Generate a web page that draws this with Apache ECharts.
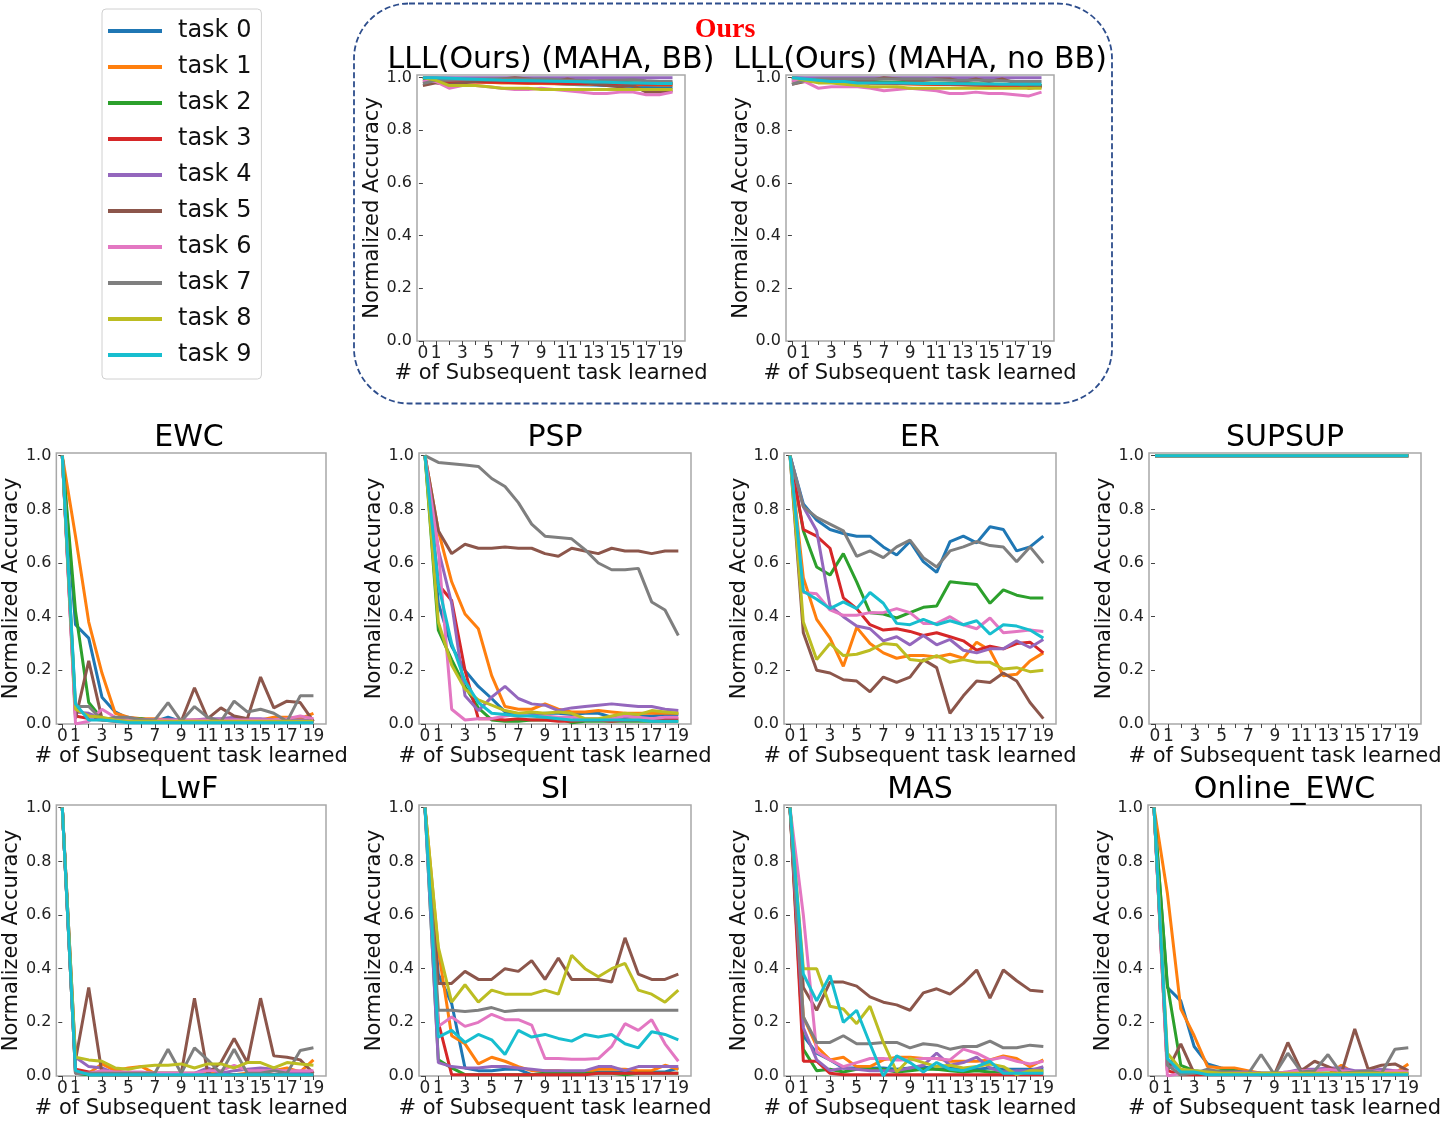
<!DOCTYPE html>
<html><head><meta charset="utf-8">
<script src="https://cdn.jsdelivr.net/npm/echarts@6/dist/echarts.min.js"></script>
<style>html,body{margin:0;padding:0;background:#fff;}#c{width:1449px;height:1122px;}</style>
</head><body><div id="c"></div>
<script>
const steps = [0,1,2,3,4,5,6,7,8,9,10,11,12,13,14,15,16,17,18,19];
const taskNames = ['task 0','task 1','task 2','task 3','task 4','task 5','task 6','task 7','task 8','task 9'];
const taskColors = ['#1f77b4','#ff7f0e','#2ca02c','#d62728','#9467bd','#8c564b','#e377c2','#7f7f7f','#bcbd22','#17becf'];
const xTickValues = steps;
const xLabelValues = [0,1,3,5,7,9,11,13,15,17,19];
const yTickValues = [0,0.2,0.4,0.6,0.8,1.0];
const methodTitles = ['LLL(Ours) (MAHA, BB)','LLL(Ours) (MAHA, no BB)','EWC','PSP','ER','SUPSUP','LwF','SI','MAS','Online_EWC'];

const lllBB = [
 [1.0,0.998,0.995,0.993,0.99,0.988,0.986,0.984,0.982,0.98,0.978,0.975,0.973,0.972,0.97,0.968,0.966,0.965,0.964,0.963],
 [1.0,0.99,0.985,0.985,0.983,0.982,0.98,0.98,0.978,0.978,0.977,0.976,0.976,0.975,0.975,0.974,0.973,0.973,0.972,0.972],
 [0.99,0.992,0.99,0.99,0.988,0.988,0.987,0.986,0.985,0.985,0.984,0.984,0.983,0.983,0.982,0.982,0.981,0.98,0.98,0.98],
 [0.985,0.988,0.985,0.984,0.983,0.982,0.982,0.981,0.98,0.98,0.979,0.978,0.978,0.977,0.977,0.976,0.976,0.975,0.975,0.975],
 [1,1,1,1,1,1,1,1,1,1,1,1,1,1,1,1,1,1,1,1],
 [0.97,0.98,0.975,0.98,0.985,0.99,0.995,1.0,0.995,0.99,0.985,0.995,0.985,0.975,0.97,0.965,0.97,0.945,0.945,0.95],
 [0.985,0.985,0.96,0.97,0.97,0.965,0.96,0.955,0.955,0.96,0.955,0.95,0.945,0.94,0.94,0.945,0.945,0.935,0.935,0.945],
 [0.978,0.99,0.99,0.992,0.994,0.995,0.996,0.995,0.994,0.995,0.993,0.99,0.99,0.988,0.99,0.99,0.992,0.988,0.985,0.985],
 [1.0,0.99,0.97,0.97,0.97,0.965,0.96,0.96,0.96,0.955,0.955,0.955,0.955,0.955,0.955,0.955,0.955,0.955,0.955,0.955],
 [1.0,1.0,0.998,0.996,0.994,0.992,0.99,0.989,0.988,0.987,0.986,0.985,0.984,0.983,0.982,0.981,0.98,0.979,0.978,0.978]
];
const lllNoBB = [
 [1.0,0.997,0.993,0.99,0.988,0.986,0.984,0.982,0.98,0.978,0.977,0.976,0.975,0.974,0.972,0.971,0.97,0.97,0.97,0.97],
 [1.0,0.99,0.986,0.984,0.982,0.98,0.979,0.978,0.977,0.976,0.975,0.974,0.974,0.973,0.972,0.971,0.97,0.97,0.97,0.97],
 [0.99,0.99,0.988,0.987,0.986,0.985,0.984,0.983,0.982,0.981,0.98,0.98,0.979,0.978,0.977,0.976,0.975,0.974,0.972,0.97],
 [0.99,0.988,0.986,0.984,0.983,0.982,0.98,0.979,0.978,0.977,0.976,0.975,0.974,0.973,0.972,0.97,0.969,0.968,0.966,0.965],
 [1,1,1,1,1,1,1,1,1,1,1,1,1,1,1,1,1,1,1,1],
 [0.975,0.985,0.99,0.99,0.99,0.985,0.99,1.0,0.995,0.99,0.99,0.995,0.995,0.985,0.995,0.985,0.995,0.98,0.96,0.965],
 [0.99,0.985,0.96,0.965,0.965,0.965,0.96,0.95,0.955,0.96,0.955,0.95,0.94,0.94,0.945,0.94,0.94,0.935,0.93,0.945],
 [0.975,0.99,0.995,0.995,0.995,0.995,0.995,0.995,0.995,0.995,0.995,0.993,0.99,0.99,0.99,0.99,0.988,0.985,0.985,0.985],
 [1.0,0.99,0.98,0.98,0.975,0.97,0.965,0.965,0.965,0.96,0.96,0.96,0.96,0.96,0.96,0.96,0.96,0.96,0.96,0.96],
 [1.0,0.995,0.99,0.985,0.985,0.98,0.98,0.98,0.98,0.979,0.978,0.978,0.977,0.977,0.976,0.976,0.975,0.975,0.975,0.975]
];
const ewc = [
 [1,0.37,0.32,0.10,0.045,0.02,0.015,0.01,0.025,0.01,0.01,0.01,0.01,0.01,0.01,0.01,0.01,0.01,0.01,0.01],
 [1,0.70,0.38,0.19,0.04,0.025,0.02,0.02,0.015,0.01,0.015,0.01,0.01,0.015,0.015,0.015,0.025,0.025,0.02,0.04],
 [1,0.42,0.08,0.02,0.02,0.015,0.02,0.01,0.01,0.01,0.01,0.01,0.01,0.01,0.01,0.01,0.01,0.01,0.01,0.01],
 [1,0.03,0.02,0.015,0.01,0.01,0.01,0.01,0.01,0.01,0.01,0.01,0.01,0.01,0.01,0.01,0.01,0.01,0.01,0.01],
 [1,0.045,0.04,0.02,0.015,0.015,0.015,0.015,0.015,0.015,0.015,0.02,0.02,0.025,0.02,0.02,0.015,0.015,0.015,0.015],
 [1,0.02,0.235,0.02,0.02,0.02,0.015,0.01,0.01,0.01,0.135,0.02,0.06,0.03,0.02,0.175,0.06,0.085,0.08,0.01],
 [1,0.0,0.01,0.055,0.025,0.02,0.015,0.015,0.015,0.015,0.015,0.015,0.015,0.015,0.015,0.015,0.015,0.02,0.03,0.02],
 [1,0.065,0.065,0.015,0.025,0.025,0.015,0.015,0.08,0.01,0.065,0.025,0.01,0.085,0.045,0.055,0.04,0.01,0.105,0.105],
 [1,0.055,0.03,0.025,0.015,0.01,0.01,0.01,0.01,0.01,0.01,0.01,0.01,0.01,0.01,0.01,0.01,0.01,0.01,0.01],
 [1,0.075,0.015,0.015,0.01,0.005,0.005,0.005,0.005,0.005,0.005,0.005,0.005,0.005,0.005,0.005,0.005,0.005,0.005,0.005]
];
const psp = [
 [1,0.45,0.29,0.2,0.14,0.095,0.045,0.035,0.035,0.04,0.04,0.035,0.04,0.04,0.025,0.025,0.03,0.03,0.035,0.035],
 [1,0.72,0.53,0.41,0.355,0.18,0.065,0.055,0.055,0.075,0.055,0.045,0.045,0.05,0.045,0.04,0.04,0.04,0.04,0.04],
 [1,0.35,0.24,0.14,0.06,0.015,0.01,0.01,0.015,0.015,0.02,0.005,0.01,0.01,0.01,0.01,0.01,0.01,0.01,0.01],
 [1,0.52,0.46,0.2,0.02,0.02,0.015,0.02,0.015,0.015,0.01,0.01,0.015,0.015,0.01,0.015,0.015,0.015,0.02,0.02],
 [1,0.65,0.45,0.105,0.05,0.1,0.14,0.095,0.075,0.07,0.05,0.06,0.065,0.07,0.075,0.07,0.065,0.065,0.055,0.05],
 [1,0.72,0.635,0.67,0.655,0.655,0.66,0.655,0.655,0.635,0.625,0.655,0.645,0.635,0.655,0.645,0.645,0.635,0.645,0.645],
 [1,0.65,0.055,0.015,0.02,0.02,0.03,0.035,0.03,0.03,0.025,0.025,0.02,0.02,0.02,0.03,0.025,0.02,0.025,0.025],
 [1,0.975,0.97,0.965,0.96,0.915,0.885,0.825,0.745,0.7,0.695,0.69,0.65,0.6,0.575,0.575,0.58,0.455,0.425,0.33],
 [1,0.38,0.22,0.13,0.09,0.07,0.05,0.04,0.045,0.04,0.045,0.04,0.02,0.02,0.03,0.04,0.035,0.05,0.045,0.04],
 [1,0.52,0.3,0.16,0.08,0.04,0.035,0.03,0.03,0.025,0.02,0.015,0.015,0.015,0.015,0.015,0.015,0.01,0.01,0.01]
];
const er = [
 [1,0.82,0.76,0.725,0.71,0.70,0.70,0.66,0.63,0.68,0.605,0.565,0.68,0.70,0.675,0.735,0.725,0.645,0.66,0.70],
 [1,0.545,0.39,0.32,0.215,0.36,0.30,0.265,0.245,0.255,0.255,0.25,0.26,0.245,0.305,0.275,0.18,0.185,0.235,0.265],
 [1,0.72,0.585,0.555,0.635,0.53,0.415,0.41,0.395,0.415,0.435,0.44,0.53,0.525,0.52,0.45,0.50,0.48,0.47,0.47],
 [1,0.725,0.70,0.655,0.47,0.43,0.37,0.35,0.355,0.345,0.33,0.34,0.325,0.31,0.275,0.29,0.28,0.30,0.305,0.265],
 [1,0.81,0.72,0.44,0.40,0.365,0.355,0.31,0.325,0.295,0.33,0.295,0.315,0.275,0.265,0.28,0.28,0.31,0.285,0.315],
 [1,0.34,0.20,0.19,0.165,0.16,0.12,0.175,0.155,0.175,0.24,0.21,0.04,0.105,0.16,0.155,0.19,0.16,0.08,0.02],
 [1,0.49,0.485,0.425,0.405,0.405,0.415,0.415,0.43,0.415,0.375,0.375,0.40,0.37,0.355,0.395,0.34,0.345,0.35,0.345],
 [1,0.81,0.77,0.745,0.72,0.625,0.645,0.62,0.66,0.685,0.62,0.585,0.645,0.66,0.68,0.665,0.66,0.605,0.66,0.60],
 [1,0.38,0.24,0.30,0.255,0.26,0.275,0.30,0.295,0.24,0.235,0.255,0.23,0.24,0.23,0.23,0.205,0.21,0.195,0.20],
 [1,0.495,0.465,0.43,0.455,0.43,0.49,0.45,0.375,0.37,0.39,0.37,0.385,0.37,0.385,0.335,0.37,0.365,0.35,0.32]
];
const supsup = [
 [1,1,1,1,1,1,1,1,1,1,1,1,1,1,1,1,1,1,1,1],
 [1,1,1,1,1,1,1,1,1,1,1,1,1,1,1,1,1,1,1,1],
 [1,1,1,1,1,1,1,1,1,1,1,1,1,1,1,1,1,1,1,1],
 [1,1,1,1,1,1,1,1,1,1,1,1,1,1,1,1,1,1,1,1],
 [1,1,1,1,1,1,1,1,1,1,1,1,1,1,1,1,1,1,1,1],
 [1,1,1,1,1,1,1,1,1,1,1,1,1,1,1,1,1,1,1,1],
 [1,1,1,1,1,1,1,1,1,1,1,1,1,1,1,1,1,1,1,1],
 [1,1,1,1,1,1,1,1,1,1,1,1,1,1,1,1,1,1,1,1],
 [1,1,1,1,1,1,1,1,1,1,1,1,1,1,1,1,1,1,1,1],
 [1,1,1,1,1,1,1,1,1,1,1,1,1,1,1,1,1,1,1,1]
];
const lwf = [
 [1,0.01,0.005,0.005,0.005,0.005,0.005,0.005,0.005,0.005,0.005,0.005,0.005,0.005,0.005,0.005,0.005,0.005,0.005,0.005],
 [1,0.02,0.01,0.045,0.02,0.03,0.035,0.01,0.01,0.01,0.01,0.01,0.01,0.005,0.01,0.01,0.02,0.03,0.015,0.06],
 [1,0.01,0.005,0.005,0.005,0.005,0.005,0.005,0.005,0.005,0.005,0.005,0.005,0.005,0.005,0.005,0.005,0.005,0.005,0.005],
 [1,0.025,0.015,0.005,0.005,0.005,0.005,0.005,0.005,0.005,0.005,0.005,0.005,0.005,0.005,0.005,0.005,0.005,0.005,0.005],
 [1,0.07,0.035,0.03,0.01,0.01,0.01,0.01,0.01,0.01,0.01,0.03,0.01,0.02,0.025,0.03,0.025,0.015,0.015,0.015],
 [1,0.06,0.33,0.01,0.01,0.01,0.01,0.01,0.01,0.01,0.29,0.01,0.05,0.14,0.05,0.29,0.075,0.07,0.06,0.01],
 [1,0.01,0.01,0.02,0.015,0.015,0.015,0.01,0.01,0.01,0.01,0.02,0.02,0.04,0.02,0.02,0.02,0.02,0.02,0.02],
 [1,0.01,0.01,0.01,0.01,0.01,0.01,0.01,0.10,0.01,0.105,0.06,0.01,0.10,0.01,0.01,0.02,0.01,0.095,0.105],
 [1,0.07,0.06,0.055,0.03,0.025,0.035,0.04,0.04,0.045,0.03,0.045,0.045,0.03,0.05,0.05,0.03,0.05,0.045,0.04],
 [1,0.02,0.005,0.005,0.005,0.005,0.005,0.005,0.005,0.005,0.005,0.005,0.005,0.005,0.005,0.005,0.005,0.005,0.005,0.005]
];
const si = [
 [1,0.38,0.27,0.03,0.02,0.02,0.025,0.025,0.005,0.01,0.01,0.01,0.01,0.015,0.015,0.015,0.015,0.015,0.015,0.03],
 [1,0.47,0.15,0.12,0.045,0.07,0.055,0.035,0.02,0.02,0.02,0.015,0.015,0.025,0.025,0.025,0.02,0.02,0.04,0.025],
 [1,0.06,0.03,0.005,0.005,0.005,0.005,0.005,0.005,0.01,0.01,0.01,0.01,0.01,0.01,0.005,0.01,0.01,0.01,0.01],
 [1,0.2,0.005,0.005,0.005,0.005,0.005,0.005,0.005,0.005,0.005,0.005,0.005,0.01,0.01,0.01,0.01,0.01,0.01,0.01],
 [1,0.05,0.035,0.03,0.03,0.035,0.035,0.03,0.025,0.02,0.02,0.02,0.02,0.035,0.035,0.02,0.035,0.035,0.035,0.035],
 [1,0.345,0.345,0.39,0.36,0.36,0.40,0.39,0.43,0.36,0.44,0.36,0.36,0.36,0.35,0.515,0.38,0.36,0.36,0.38],
 [1,0.185,0.22,0.185,0.20,0.23,0.21,0.21,0.19,0.065,0.065,0.062,0.062,0.065,0.11,0.195,0.17,0.21,0.12,0.055],
 [1,0.245,0.245,0.24,0.245,0.255,0.24,0.245,0.245,0.245,0.245,0.245,0.245,0.245,0.245,0.245,0.245,0.245,0.245,0.245],
 [1,0.48,0.275,0.34,0.275,0.32,0.305,0.305,0.305,0.32,0.305,0.45,0.40,0.37,0.40,0.42,0.32,0.305,0.275,0.32],
 [1,0.145,0.17,0.125,0.155,0.135,0.08,0.17,0.145,0.155,0.14,0.13,0.155,0.145,0.155,0.12,0.105,0.165,0.155,0.135]
];
const mas = [
 [1,0.15,0.085,0.06,0.03,0.03,0.03,0.03,0.025,0.03,0.035,0.025,0.03,0.025,0.025,0.03,0.025,0.025,0.025,0.025],
 [1,0.22,0.11,0.06,0.07,0.035,0.035,0.06,0.07,0.07,0.065,0.065,0.055,0.055,0.055,0.06,0.075,0.065,0.035,0.06],
 [1,0.10,0.02,0.025,0.015,0.025,0.025,0.025,0.015,0.02,0.025,0.025,0.02,0.015,0.02,0.015,0.015,0.015,0.015,0.015],
 [1,0.055,0.055,0.01,0.005,0.005,0.005,0.005,0.005,0.005,0.005,0.005,0.005,0.005,0.005,0.005,0.005,0.005,0.005,0.005],
 [1,0.18,0.06,0.02,0.03,0.025,0.02,0.02,0.02,0.03,0.04,0.085,0.04,0.05,0.07,0.03,0.015,0.02,0.02,0.035],
 [1,0.33,0.245,0.35,0.35,0.335,0.295,0.275,0.265,0.245,0.31,0.325,0.305,0.345,0.395,0.29,0.395,0.355,0.32,0.315],
 [1,0.60,0.09,0.06,0.035,0.05,0.065,0.065,0.06,0.06,0.065,0.065,0.06,0.10,0.085,0.06,0.07,0.055,0.045,0.055],
 [1,0.22,0.125,0.125,0.15,0.12,0.12,0.125,0.125,0.105,0.12,0.115,0.10,0.11,0.11,0.13,0.105,0.105,0.115,0.11],
 [1,0.40,0.40,0.26,0.25,0.195,0.26,0.125,0.015,0.065,0.05,0.035,0.04,0.03,0.035,0.045,0.035,0.005,0.02,0.02],
 [1,0.38,0.28,0.375,0.20,0.245,0.12,0.0,0.075,0.05,0.015,0.05,0.025,0.02,0.035,0.055,0.01,0.01,0.01,0.01]
];
const onlineEwc = [
 [1,0.33,0.28,0.11,0.045,0.03,0.02,0.015,0.01,0.01,0.01,0.01,0.01,0.01,0.01,0.01,0.01,0.01,0.01,0.01],
 [1,0.68,0.25,0.15,0.035,0.03,0.03,0.02,0.01,0.005,0.005,0.005,0.005,0.005,0.04,0.01,0.01,0.01,0.01,0.045],
 [1,0.34,0.04,0.02,0.015,0.02,0.02,0.01,0.01,0.01,0.01,0.01,0.01,0.01,0.01,0.01,0.01,0.01,0.01,0.01],
 [1,0.02,0.005,0.005,0.005,0.005,0.005,0.005,0.005,0.005,0.005,0.005,0.005,0.005,0.005,0.005,0.005,0.005,0.005,0.005],
 [1,0.05,0.02,0.015,0.015,0.015,0.015,0.015,0.01,0.01,0.015,0.025,0.025,0.03,0.03,0.02,0.02,0.025,0.02,0.015],
 [1,0.02,0.12,0.01,0.01,0.01,0.01,0.01,0.005,0.005,0.125,0.02,0.055,0.035,0.01,0.175,0.025,0.04,0.045,0.02],
 [1,0.0,0.01,0.015,0.015,0.01,0.01,0.01,0.01,0.01,0.015,0.02,0.02,0.025,0.02,0.015,0.02,0.015,0.02,0.015],
 [1,0.04,0.005,0.01,0.025,0.015,0.01,0.005,0.08,0.005,0.085,0.015,0.02,0.08,0.01,0.015,0.02,0.01,0.10,0.105],
 [1,0.085,0.025,0.02,0.015,0.01,0.01,0.01,0.01,0.01,0.01,0.01,0.01,0.01,0.01,0.01,0.01,0.01,0.01,0.01],
 [1,0.065,0.015,0.015,0.005,0.005,0.005,0.005,0.005,0.005,0.005,0.005,0.005,0.005,0.005,0.005,0.005,0.005,0.005,0.005]
];

const methodData = [lllBB, lllNoBB, ewc, psp, er, supsup, lwf, si, mas, onlineEwc];
// layout: [left, top, width, height]
const boxes = [
 [417,75,268,266],[786,75,268,266],
 [52,453,274,271],[419,453,272,271],[784,453,272,271],[1149,453,272,271],
 [52,805,274,271],[419,805,272,271],[784,805,272,271],[1148,805,273,271]
];

const FONT = 'DejaVu Sans';
const grids = [], xAxes = [], yAxes = [], titles = [], series = [];
boxes.forEach((b, i) => {
  grids.push({left:b[0], top:b[1], width:b[2], height:b[3], show:true, borderColor:'#a8a8a8', borderWidth:1.5, backgroundColor:'transparent'});
  xAxes.push({
    type:'value', gridIndex:i, min:-0.45, max:19.95,
    name:'# of Subsequent task learned', nameLocation:'middle', nameGap:21,
    nameTextStyle:{fontFamily:FONT, fontSize:21, color:'#111'},
    axisLine:{show:false}, splitLine:{show:false},
    axisTick:{show:true, length:4, customValues:xTickValues, lineStyle:{color:'#444', width:1}},
    axisLabel:{customValues:xLabelValues, fontFamily:FONT, fontSize:17, color:'#222', margin:4}
  });
  yAxes.push({
    type:'value', gridIndex:i, min:0, max:1.01,
    name:'Normalized Accuracy', nameLocation:'middle', nameGap:24,
    nameTextStyle:{fontFamily:FONT, fontSize:21, color:'#111'},
    axisLine:{show:false}, splitLine:{show:false},
    axisTick:{show:true, length:4, customValues:yTickValues, lineStyle:{color:'#444', width:1}},
    axisLabel:{customValues:yTickValues, fontFamily:FONT, fontSize:16, color:'#222', margin:5, formatter:v=>Number(v).toFixed(1)}
  });
  titles.push({text:methodTitles[i], left:b[0]+b[2]/2, textAlign:'center', top:b[1]-(i<2?30:30),
    textStyle:{fontFamily:FONT, fontSize:30, fontWeight:'normal', color:'#000'}, padding:0});
  methodData[i].forEach((vals, t) => {
    series.push({
      type:'line', name:taskNames[t], xAxisIndex:i, yAxisIndex:i,
      data: vals.map((v,k)=>[steps[k], v]),
      showSymbol:false, symbol:'none', color:taskColors[t],
      lineStyle:{width:3, color:taskColors[t]}, animation:false, z:2+t*0.01
    });
  });
});
titles.push({text:'Ours', left:725, textAlign:'center', top:16, padding:0,
  textStyle:{fontFamily:'Liberation Serif', fontSize:28, fontWeight:'bold', color:'#ff0000'}});

const chart = echarts.init(document.getElementById('c'), null, {renderer:'canvas'});
chart.setOption({
  animation:false,
  backgroundColor:'#fff',
  title:titles,
  grid:grids, xAxis:xAxes, yAxis:yAxes, series:series,
  legend:{
    data:taskNames, orient:'vertical', left:102, top:9, selectedMode:false,
    icon:'rect', itemWidth:54, itemHeight:4, itemGap:12,
    padding:[10,10,12,6], borderColor:'#d0d0d0', borderWidth:1, borderRadius:4, backgroundColor:'#fff',
    textStyle:{fontFamily:FONT, fontSize:24, lineHeight:24, color:'#111', padding:[0,0,0,11]}
  },
  graphic:[{
    type:'rect', shape:{x:354, y:3.5, width:758, height:400, r:55},
    style:{fill:null, stroke:'#2d4d8c', lineWidth:1.8, lineDash:[6,3]}, silent:true, z:-1
  }]
});
</script>
</body></html>
